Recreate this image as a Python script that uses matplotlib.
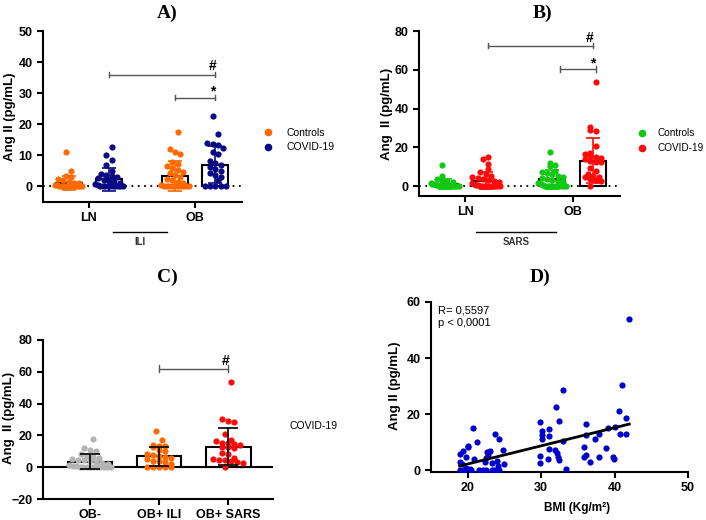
import numpy as np
import matplotlib.pyplot as plt
from matplotlib.lines import Line2D

plt.rcParams['font.family'] = ['Liberation Sans', 'DejaVu Sans']

# --- data (Ang II, pg/mL) ---
groups_ab = ['LN', 'OB']
groups_c = ['OB-', 'OB+ ILI', 'OB+ SARS']

ctrl_LN = [11, 5, 3.5, 3, 2.5, 2, 1.5, 1, 1, 0.5, 0.5, 0.3,
           0, 0, 0, 0, 0, 0, 0, 0, 0, 0, 0, 0]
ctrl_OB = [17.6, 12, 11, 10.5, 8, 7.2, 6.6, 6, 5.4, 4.8, 4.3, 3.6, 3, 2.4,
           2, 1.5, 1, 0.5, 0, 0, 0, 0, 0, 0, 0, 0, 0, 0]
ili_LN = [12.7, 10, 8.6, 7, 5, 4, 3.6, 3.3, 3, 2.6, 2.2, 1.8, 1.4, 1, 0.7,
          0.4, 0, 0, 0, 0, 0, 0, 0, 0, 0, 0]
ili_OB = [22.6, 17, 14, 13.6, 13.2, 12.4, 11.1, 10.5, 8.2, 7.5, 7, 6.2, 5.6,
          5, 4.2, 3.6, 3, 2, 0, 0, 0, 0, 0]
sars_LN = [15.2, 13.8, 11.2, 8.6, 7, 6, 5.2, 4.5, 4, 3.4, 3, 2.5, 2, 1.5, 1,
           0.6, 0.3, 0, 0, 0, 0, 0, 0, 0, 0, 0, 0]
sars_OB = [53.7, 30.3, 28.8, 28.2, 20.9, 17.2, 16.3, 15.4, 15, 14.6, 13.8,
           12.8, 12.5, 12.2, 9.2, 8, 6, 5, 4.8, 4.4, 3.6, 3, 2.5, 0.2]

# bar heights (mean) and error bars (SD) as shown
ctrl_mean = [1.1, 3.4]
ctrl_sd = [2.4, 4.8]
ili_mean = [2.3, 7.0]
ili_sd = [3.7, 6.0]
sars_mean = [2.8, 13.0]
sars_sd = [4.2, 11.6]

# panel D: BMI vs Ang II
bmi = [20.7, 23.7, 24.3, 21.3, 20.0, 20.1, 19.4, 24.8, 18.9, 22.6, 23.1, 22.8,
       19.7, 20.8, 22.5, 18.9, 22.4, 24.0, 19.2, 23.3, 24.9, 24.1, 19.0, 19.5,
       20.3, 20.5, 21.6, 22.1, 22.5, 23.3, 23.6, 24.3, 19.8,
       33.0, 32.0, 29.9, 32.5, 31.1, 30.1, 30.1, 31.1, 30.1, 33.0, 31.1, 31.9,
       32.1, 29.9, 31.0, 32.3, 32.5, 29.9, 33.4,
       42.0, 41.0, 40.6, 41.5, 36.1, 39.1, 40.1, 36.1, 40.7, 41.6, 37.9, 37.4,
       35.9, 38.8, 36.1, 35.9, 37.9, 39.8, 39.9, 36.7]
ang = [15.1, 12.9, 11.1, 10.1, 8.6, 8.2, 6.8, 7.0, 5.6, 6.5, 6.8, 5.2,
       4.5, 3.8, 4.2, 3.0, 3.0, 3.3, 2.0, 2.4, 2.0, 1.5, 0, 0,
       0.5, 0, 0, 0, 0, 0, 0, 0, 0.8,
       28.6, 22.6, 17.1, 17.5, 14.5, 13.9, 12.5, 12.2, 11.0, 10.5, 7.4, 7.0,
       6.0, 4.9, 3.9, 4.5, 3.5, 2.6, 0.2,
       53.9, 30.4, 21.1, 18.7, 16.3, 15.1, 15.2, 12.5, 12.7, 13.0, 12.9, 11.1,
       8.3, 7.9, 5.4, 4.6, 4.5, 4.8, 3.8, 3.0]
fit_slope = 0.648
fit_intercept = -10.8

orange = '#ff6a00'
navy = '#0a0a85'
green = '#12c812'
red = '#ff0a0a'
grey = '#b4b4b4'
blue = '#0000cc'

W, H = 706, 520
fig = plt.figure(figsize=(W / 100, H / 100), dpi=100)


def axes_px(l, t, r, b):
    return fig.add_axes([l / W, 1 - b / H, (r - l) / W, (b - t) / H])


def style(ax):
    for s in ['top', 'right']:
        ax.spines[s].set_visible(False)
    for s in ['left', 'bottom']:
        ax.spines[s].set_linewidth(1.5)
    ax.tick_params(width=1.5, length=4, labelsize=9)
    for lab in ax.get_xticklabels() + ax.get_yticklabels():
        lab.set_fontweight('bold')


def swarm_x(vals, center, dx, dy, half):
    vals = np.asarray(vals, float)
    xs = np.full(len(vals), float(center))
    bins = np.round(vals / dy).astype(int)
    for b in np.unique(bins):
        idx = np.where(bins == b)[0]
        n = len(idx)
        if n > 1:
            h = min((n - 1) / 2 * dx, half)
            xs[idx] = center + np.linspace(-h, h, n)
        else:
            xs[idx] = center + (dx / 2 if b % 2 else -dx / 2)
    return xs


def bracket(ax, x0, x1, y, cap, label, ly):
    ax.plot([x0, x1], [y, y], color='#555555', lw=1)
    ax.plot([x0, x0], [y - cap, y + cap], color='#555555', lw=1)
    ax.plot([x1, x1], [y - cap, y + cap], color='#555555', lw=1)
    ax.text(x1 - 0.03, ly, label, ha='center', va='center',
            fontsize=10, fontweight='bold')


def ylabel(x, y, text):
    fig.text(x / W, 1 - y / H, text, rotation=90, ha='center', va='center',
             fontsize=9.5, fontweight='bold')


def title(x, y, text):
    fig.text(x / W, 1 - y / H, text, ha='center', va='center', fontsize=14,
             fontweight='bold', family='Liberation Serif')


def group_line(x0, x1, y, text):
    fig.add_artist(Line2D([x0 / W, x1 / W], [1 - y / H, 1 - y / H],
                          transform=fig.transFigure, color='black', lw=1))
    fig.text((x0 + x1) / 2 / W, 1 - (y + 10) / H, text, ha='center',
             va='center', fontsize=7, fontweight='bold', color='#333333')


def grouped(ax, cov_LN, cov_OB, cov_mean, cov_sd, c_ctrl, c_cov, dy, ytop, ystep):
    off, bw = 0.19, 0.245
    xg = np.arange(len(groups_ab))
    ax.axhline(0, color='black', lw=1.3, ls=(0, (1, 2.5)), zorder=1)
    for sign, means, sds, sets, col in [(-1, ctrl_mean, ctrl_sd, [ctrl_LN, ctrl_OB], c_ctrl),
                                        (1, cov_mean, cov_sd, [cov_LN, cov_OB], c_cov)]:
        xs = xg + sign * off
        ax.bar(xs, means, width=bw, facecolor='white', edgecolor='black',
               linewidth=1.5, zorder=2)
        for x, vals in zip(xs, sets):
            ax.scatter(swarm_x(vals, x, 0.05, dy, 0.13), vals, s=20, color=col,
                       linewidths=0, zorder=3)
        ax.errorbar(xs, means, yerr=sds, fmt='none', ecolor=col, elinewidth=1.2,
                    capsize=5, capthick=1.2, zorder=4)
    ax.set_xlim(-0.43, 1.44)
    ax.set_ylim(-5, ytop)
    ax.set_yticks(np.arange(0, ytop + 1, ystep))
    ax.set_xticks(xg)
    ax.set_xticklabels(groups_ab)
    style(ax)
    handles = [Line2D([], [], marker='o', ls='', color=c, markersize=4.5)
               for c in (c_ctrl, c_cov)]
    return handles


# ---- A ----
axA = axes_px(43, 31, 242, 202)
hA = grouped(axA, ili_LN, ili_OB, ili_mean, ili_sd, orange, navy, 1.9, 50, 10)
bracket(axA, 0.19, 1.19, 36, 0.9, '#', 38.8)
bracket(axA, 0.81, 1.19, 28.6, 0.9, '*', 30.6)
fig.legend(hA, ['Controls', 'COVID-19'], loc='center left', frameon=False,
           bbox_to_anchor=(258 / W, 1 - 140 / H), fontsize=7.5, handlelength=1,
           handletextpad=1.2, labelspacing=0.45, borderpad=0)
ylabel(10, 117, 'Ang II (pg/mL)')
title(167, 13, 'A)')
group_line(113, 167, 232, 'ILI')

# ---- B ----
axB = axes_px(419, 31, 620, 195.7)
hB = grouped(axB, sars_LN, sars_OB, sars_mean, sars_sd, green, red, 3.1, 80, 20)
bracket(axB, 0.21, 1.19, 72.5, 1.5, '#', 76.5)
bracket(axB, 0.88, 1.22, 60.5, 1.5, '*', 63.5)
fig.legend(hB, ['Controls', 'COVID-19'], loc='center left', frameon=False,
           bbox_to_anchor=(632 / W, 1 - 141 / H), fontsize=7.2, handlelength=1,
           handletextpad=1.0, labelspacing=0.5, borderpad=0)
ylabel(387, 114, 'Ang  II (pg/mL)')
title(542, 13, 'B)')
group_line(476, 556, 232, 'SARS')

# ---- C ----
axC = axes_px(43, 340, 273, 499)
xc = np.arange(len(groups_c))
c_sets = [ctrl_OB, ili_OB, sars_OB]
c_mean = [ctrl_mean[1], ili_mean[1], sars_mean[1]]
c_sd = [ctrl_sd[1], ili_sd[1], sars_sd[1]]
c_cols = [grey, orange, red]
axC.axhline(0, color='black', lw=1.5, zorder=1)
axC.bar(xc, c_mean, width=0.65, facecolor='white', edgecolor='black',
        linewidth=1.5, zorder=2)
for x, vals, col in zip(xc, c_sets, c_cols):
    axC.scatter(swarm_x(vals, x, 0.085, 3.7, 0.3), vals, s=20, color=col,
                linewidths=0, zorder=3)
axC.errorbar(xc, c_mean, yerr=c_sd, fmt='none', ecolor='black', elinewidth=1.2,
             capsize=7, capthick=1.2, zorder=4)
axC.set_xlim(-0.68, 2.65)
axC.set_ylim(-20, 80)
axC.set_yticks(np.arange(-20, 81, 20))
axC.set_xticks(xc)
axC.set_xticklabels(groups_c)
style(axC)
bracket(axC, 1, 2, 62, 2, '#', 66.5)
fig.text(290 / W, 1 - 426 / H, 'COVID-19', ha='left', va='center', fontsize=7.5)
ylabel(9, 418, 'Ang  II (pg/mL)')
title(167, 277, 'C)')

# ---- D ----
axD = axes_px(431, 302, 688, 472)
axD.scatter(bmi, ang, s=20, color=blue, linewidths=0, zorder=3)
xf = np.array([min(bmi), max(bmi)])
axD.plot(xf, fit_slope * xf + fit_intercept, color='black', lw=2, zorder=4)
axD.set_xlim(15, 50)
axD.set_ylim(-0.7, 60)
axD.set_xticks([20, 30, 40, 50])
axD.set_yticks([0, 20, 40, 60])
style(axD)
axD.text(0.027, 0.95, 'R= 0,5597', transform=axD.transAxes, fontsize=8, va='center')
axD.text(0.027, 0.875, 'p < 0,0001', transform=axD.transAxes, fontsize=8, va='center')
ylabel(395, 386, 'Ang II (pg/mL)')
fig.text(577 / W, 1 - 508 / H, 'BMI (Kg/m²)', ha='center', va='center',
         fontsize=8.5, fontweight='bold')
title(540, 277, 'D)')

fig.savefig('out.png', dpi=100)
